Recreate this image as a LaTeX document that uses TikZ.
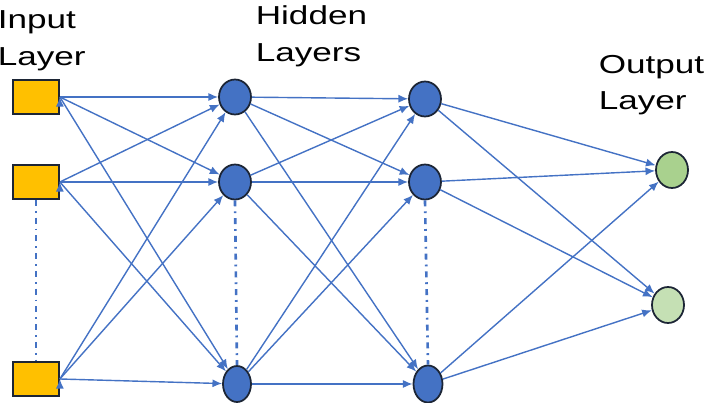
\documentclass[tikz,border=0pt]{standalone}
\usepackage{fontspec}
\setmainfont{Liberation Sans}
\newfontfamily\widesans[FakeStretch=1.35]{Liberation Sans}
\usetikzlibrary{arrows.meta,shapes.geometric}

\definecolor{nnblue}{HTML}{4472C4}
\definecolor{nnorange}{HTML}{FFC000}
\definecolor{nngreen}{HTML}{A9D18E}
\definecolor{nnlgreen}{HTML}{C5E0B4}
\definecolor{nnedge}{HTML}{1C2535}

\tikzset{
  inbox/.style={draw=nnedge, line width=1pt, fill=nnorange, minimum width=0.92cm, minimum height=0.68cm, inner sep=0pt},
  hid/.style={ellipse, draw=nnedge, line width=1pt, fill=nnblue, minimum width=0.64cm, minimum height=0.70cm, inner sep=0pt},
  outn/.style={ellipse, draw=nnedge, line width=1pt, minimum width=0.64cm, minimum height=0.72cm, inner sep=0pt},
  link/.style={nnblue, line width=0.8pt, -{Latex[length=5.5pt,width=4.6pt]}},
  gap/.style={nnblue, line width=1.5pt, dash pattern=on 3.4pt off 2.8pt on 1.1pt off 2.8pt},
  title/.style={font=\widesans\fontsize{14.8}{21}\selectfont, align=left, inner sep=0pt, anchor=north west}
}

\begin{document}
\begin{tikzpicture}
  % canvas 711x403 px, 1 px = 0.02 cm, origin top left
  \useasboundingbox (0,0) rectangle (14.22,-8.06);
  % layer titles
  \node[title] (tin)  at (-0.05,-0.20) {Input\\Layer};
  \node[title] (thid) at (5.11,-0.10)  {Hidden\\Layers};
  \node[title] (tout) at (11.97,-1.09) {Output\\Layer};
  % input layer
  \node[inbox] (I1) at (0.72,-1.94) {};
  \node[inbox] (I2) at (0.72,-3.64) {};
  \node[inbox] (I3) at (0.72,-7.58) {};
  % first hidden layer
  \node[hid] (A1) at (4.70,-1.94) {};
  \node[hid] (A2) at (4.70,-3.64) {};
  \node[hid, minimum width=0.56cm, minimum height=0.72cm] (A3) at (4.74,-7.68) {};
  % second hidden layer
  \node[hid] (B1) at (8.50,-1.98) {};
  \node[hid] (B2) at (8.50,-3.64) {};
  \node[hid, minimum width=0.58cm, minimum height=0.74cm] (B3) at (8.56,-7.68) {};
  % output layer
  \node[outn, fill=nngreen]  (O1) at (13.44,-3.40) {};
  \node[outn, fill=nnlgreen] (O2) at (13.36,-6.10) {};
  % "more units" marks
  \draw[gap] (I2.south) -- (I3.north);
  \draw[gap] (A2.south) -- (A3.north);
  \draw[gap] (B2.south) -- (B3.north);
  % input -> hidden 1
  \draw[link] (I1.east) edge (A1) edge (A2) edge (A3);
  \draw[link] (I2.east) edge (A1) edge (A2) edge (A3);
  \draw[link] (I3.east) edge (A1) edge (A2) edge (A3);
  % hidden 1 -> hidden 2
  \draw[link] (A1) edge (B1) edge (B2) edge (B3);
  \draw[link] (A2) edge (B1) edge (B2) edge (B3);
  \draw[link] (A3) edge (B1) edge (B2) edge (B3);
  % hidden 2 -> output
  \draw[link] (B1) edge (O1) edge (O2);
  \draw[link] (B2) edge (O1) edge (O2);
  \draw[link] (B3) edge (O1) edge (O2);
\end{tikzpicture}
\end{document}
